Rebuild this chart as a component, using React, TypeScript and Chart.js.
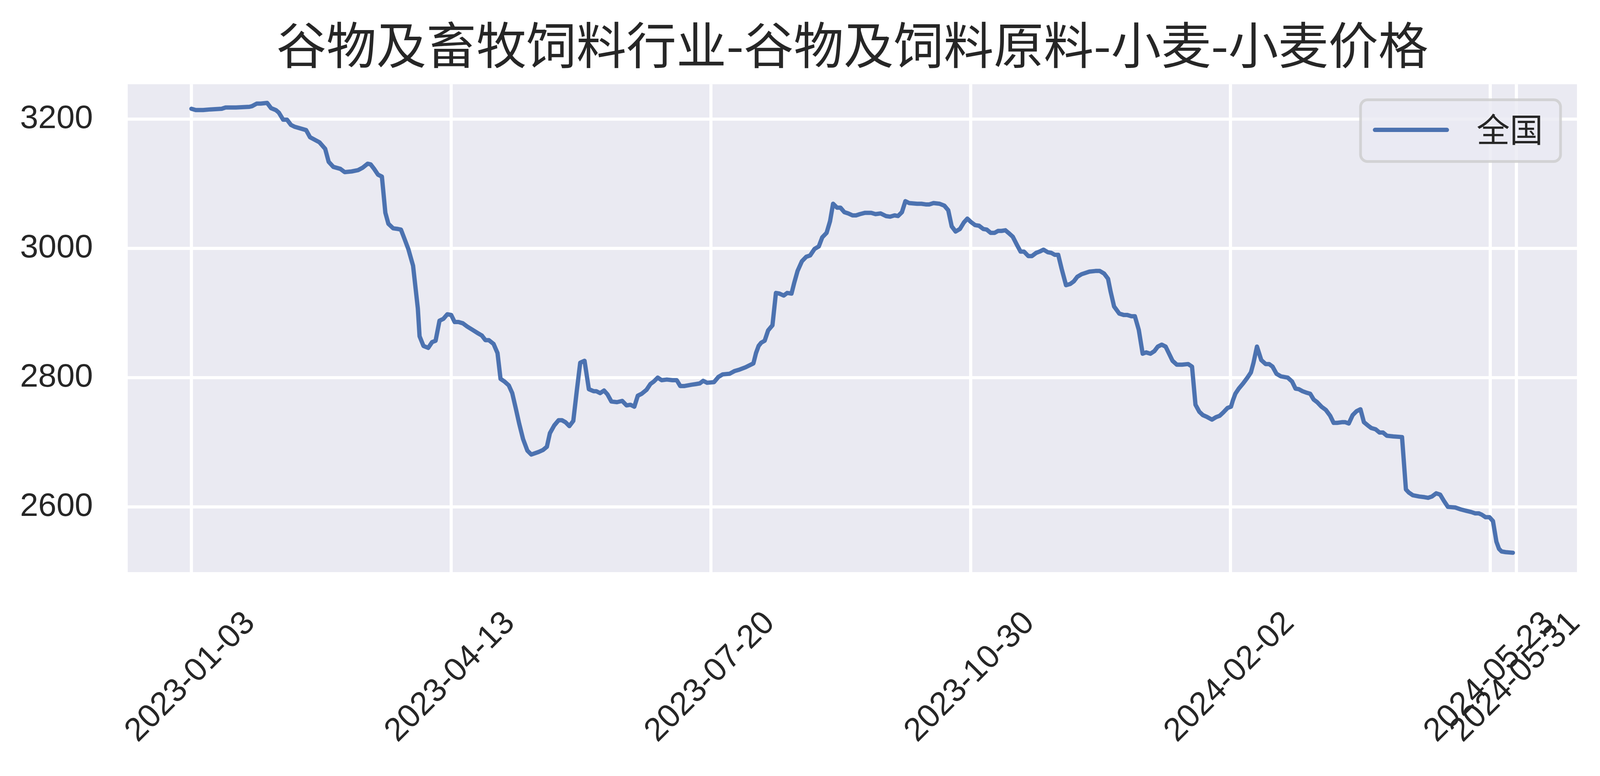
import React, { useEffect, useRef } from "react";
import { Chart, registerables } from "chart.js";

Chart.register(...registerables);

const chartTitle = "谷物及畜牧饲料行业-谷物及饲料原料-小麦-小麦价格";
const seriesName = "全国";

// x positions are trading-day indices (tick positions below use the same units)
const tickPos = [0, 60, 120, 180, 240, 300, 306];
const tickLabels = ["2023-01-03", "2023-04-13", "2023-07-20", "2023-10-30", "2024-02-02", "2024-05-23", "2024-05-31"];
const yTicks = [2600, 2800, 3000, 3200];

const pointIndex = [
  0, 1, 2.7, 4.4, 7, 7.9, 10.3, 13.4, 14, 15.1, 16, 17.5, 18.4, 19.5, 20.2, 21.2, 22.1, 23, 23.9, 26.5,
  27.4, 29.6, 30.9, 31.7, 32.8, 34.4, 35.4, 37, 38.5, 39.6, 40.7, 41.4, 42.2, 43.1, 44, 44.8, 45.5, 46.6, 47.7, 48.4,
  49.2, 50.1, 51.2, 52.3, 52.7, 53.6, 54.7, 55.6, 56.4, 57.3, 58.2, 59.1, 60, 60.8, 61.7, 62.7, 63.7, 64.9, 66.1, 67.1,
  67.9, 68.7, 69.8, 70.7, 71.4, 72.3, 73.3, 74.1, 74.9, 75.7, 76.6, 77.6, 78.5, 80.2, 81.2, 82.1, 82.8, 83.8, 84.8, 85.6,
  86.4, 87.3, 88.2, 89, 89.8, 90.8, 91.8, 92.9, 93.5, 94.4, 95.3, 96.1, 97, 98.3, 99.5, 100.5, 101.4, 102.3, 103.1, 104,
  105.1, 106, 106.8, 107.7, 108.6, 109.8, 111.1, 112.1, 112.9, 113.9, 115.5, 116.5, 117.4, 118.2, 119.1, 120.7, 121.7, 122.7, 124.3, 125.4,
  126.4, 128, 129.8, 130.4, 131, 131.6, 132.4, 133.2, 134.2, 135, 135.8, 136.8, 137.6, 138.6, 139.2, 140, 141, 142, 142.9, 143.9,
  144.9, 145.7, 146.7, 147.5, 148.2, 149.1, 149.9, 150.8, 151.7, 152.7, 153.5, 154.4, 155.6, 157, 158, 159.2, 160.4, 161.4, 162.4, 163.2,
  164.1, 164.9, 165.8, 167.6, 168.6, 169.6, 170.4, 171.4, 172.8, 173.9, 174.8, 175.6, 176.5, 177.5, 178.4, 179.2, 180, 181, 181.9, 182.9,
  183.7, 184.6, 185.5, 186.3, 187.1, 188, 188.7, 189.7, 190.7, 191.5, 192.3, 193.3, 194.1, 195.1, 195.9, 196.8, 197.8, 198.6, 199.4, 200.2,
  201, 202, 203, 203.8, 204.6, 205.6, 207.4, 208.8, 209.8, 210.8, 211.7, 212.3, 213.1, 214.3, 215.3, 216.1, 217.1, 217.9, 218.8, 219.7,
  220.5, 221.5, 222.4, 223.2, 224.1, 225, 225.8, 226.6, 227.6, 228.8, 230.2, 231.1, 231.9, 232.8, 233.6, 234.6, 235.7, 236.7, 237.5, 238.3,
  239.3, 240.1, 240.5, 241.1, 241.9, 242.9, 243.9, 244.7, 245.3, 246.1, 247.1, 248.1, 248.9, 249.7, 250.6, 251.6, 253.2, 254.2, 255, 255.8,
  256.6, 257.4, 258.4, 259.2, 260, 261, 262, 263, 263.8, 264.6, 265.7, 266.5, 267.3, 268.2, 269.1, 270, 270.8, 271.7, 272.5, 273.5,
  274.4, 275.2, 276.1, 277.6, 279.6, 280.5, 281.2, 282.1, 283.6, 284.8, 285.6, 286.5, 287.5, 288.4, 289.3, 290.2, 291.9, 293.2, 294.4, 295.6,
  296.5, 297.3, 298, 298.9, 299.8, 300.6, 301.4, 302, 302.6, 303.5, 305.2,
];

const price = [
  3216, 3214, 3214, 3215, 3216, 3218, 3218, 3219, 3220, 3224, 3224, 3225, 3217, 3214, 3210, 3199, 3199, 3191, 3188, 3183,
  3172, 3164, 3154, 3134, 3126, 3123, 3118, 3119, 3121, 3125, 3131, 3130, 3123, 3114, 3111, 3055, 3038, 3031, 3030, 3029,
  3015, 2999, 2973, 2907, 2864, 2849, 2846, 2855, 2857, 2888, 2891, 2898, 2897, 2886, 2886, 2884, 2879, 2874, 2869, 2865,
  2858, 2858, 2852, 2838, 2798, 2794, 2788, 2776, 2753, 2729, 2705, 2687, 2681, 2685, 2688, 2693, 2714, 2726, 2734, 2734,
  2731, 2725, 2733, 2779, 2823, 2826, 2782, 2779, 2779, 2776, 2780, 2774, 2763, 2762, 2764, 2757, 2758, 2755, 2772, 2775,
  2781, 2790, 2794, 2800, 2796, 2797, 2796, 2796, 2787, 2787, 2789, 2790, 2791, 2795, 2792, 2793, 2801, 2805, 2806, 2810,
  2812, 2816, 2822, 2838, 2849, 2854, 2857, 2873, 2881, 2931, 2930, 2927, 2931, 2930, 2946, 2965, 2980, 2987, 2989, 2999,
  3003, 3017, 3024, 3042, 3069, 3063, 3063, 3056, 3054, 3051, 3051, 3053, 3055, 3055, 3053, 3054, 3050, 3049, 3051, 3050,
  3056, 3073, 3070, 3069, 3069, 3068, 3068, 3070, 3069, 3066, 3059, 3034, 3026, 3030, 3040, 3046, 3041, 3036, 3035, 3030,
  3029, 3024, 3024, 3027, 3027, 3028, 3024, 3018, 3005, 2995, 2995, 2988, 2988, 2993, 2995, 2998, 2994, 2993, 2990, 2990,
  2968, 2943, 2945, 2949, 2956, 2960, 2964, 2965, 2965, 2961, 2953, 2933, 2910, 2899, 2897, 2897, 2895, 2895, 2874, 2837,
  2839, 2837, 2841, 2848, 2851, 2848, 2837, 2826, 2820, 2820, 2821, 2817, 2758, 2747, 2742, 2739, 2735, 2739, 2741, 2746,
  2753, 2755, 2764, 2775, 2783, 2791, 2800, 2808, 2823, 2848, 2827, 2821, 2821, 2817, 2806, 2802, 2800, 2794, 2783, 2782,
  2779, 2777, 2775, 2766, 2762, 2755, 2750, 2741, 2730, 2730, 2731, 2731, 2729, 2742, 2748, 2751, 2731, 2726, 2722, 2720,
  2715, 2715, 2710, 2709, 2708, 2627, 2622, 2618, 2616, 2615, 2614, 2616, 2621, 2619, 2609, 2600, 2599, 2596, 2594, 2592,
  2590, 2590, 2588, 2584, 2584, 2578, 2546, 2535, 2531, 2530, 2529,
];

const W = 4131;
const H = 1987;

const bgPlugin = {
  id: "seabornBg",
  beforeDraw(chart: any) {
    const { ctx, chartArea } = chart;
    ctx.save();
    ctx.fillStyle = "#ffffff";
    ctx.fillRect(0, 0, chart.width, chart.height);
    ctx.fillStyle = "#EAEAF2";
    ctx.fillRect(chartArea.left, chartArea.top, chartArea.right - chartArea.left, chartArea.bottom - chartArea.top);
    ctx.restore();
  },
};

// matplotlib-style legend box in the upper right of the axes
const boxLegend = {
  id: "boxLegend",
  afterDraw(chart: any) {
    const { ctx, chartArea } = chart;
    const ds = chart.data.datasets[0];
    const w = 512;
    const h = 158;
    const x = chartArea.right - 42 - w;
    const y = chartArea.top + 40;
    const r = 18;
    ctx.save();
    ctx.beginPath();
    ctx.roundRect(x, y, w, h, r);
    ctx.fillStyle = "rgba(234,234,242,0.8)";
    ctx.fill();
    ctx.lineWidth = 7;
    ctx.strokeStyle = "rgba(204,204,204,0.8)";
    ctx.stroke();

    ctx.beginPath();
    ctx.moveTo(x + 37, y + 77);
    ctx.lineTo(x + 221, y + 77);
    ctx.lineWidth = ds.borderWidth;
    ctx.lineCap = "round";
    ctx.strokeStyle = ds.borderColor;
    ctx.stroke();

    ctx.fillStyle = "#262626";
    ctx.font = '85px "Noto Sans CJK SC", sans-serif';
    ctx.textAlign = "left";
    ctx.textBaseline = "middle";
    ctx.fillText(ds.label, x + 297, y + 76);
    ctx.restore();
  },
};

const App = () => {
  const canvasRef = useRef<HTMLCanvasElement>(null);

  useEffect(() => {
    const ctx = canvasRef.current?.getContext("2d");
    if (!ctx) return;

    const tickFont = { family: '"Liberation Sans", Arial, sans-serif', size: 84 };

    const chart = new Chart(ctx, {
      type: "line",
      data: {
        datasets: [
          {
            label: seriesName,
            data: pointIndex.map((x, i) => ({ x, y: price[i] })),
            borderColor: "#4C72B0",
            borderWidth: 11,
            pointRadius: 0,
            tension: 0,
            borderCapStyle: "round",
            borderJoinStyle: "round",
            fill: false,
          },
        ],
      },
      options: {
        responsive: false,
        devicePixelRatio: 1,
        animation: false,
        layout: { padding: { left: 0, right: 94, top: 0, bottom: 0 } },
        plugins: {
          legend: { display: false },
          tooltip: { enabled: false },
          title: {
            display: true,
            text: chartTitle,
            fullSize: false,
            color: "#262626",
            font: { family: '"Noto Sans CJK SC", sans-serif', size: 128, weight: "normal", lineHeight: 1.2 },
            padding: { top: 39, bottom: 23 },
          },
        },
        scales: {
          x: {
            type: "linear",
            min: -14.7,
            max: 320,
            afterBuildTicks: (scale: any) => {
              scale.ticks = tickPos.map((v) => ({ value: v }));
            },
            afterFit: (scale: any) => {
              scale.height = 522;
            },
            ticks: {
              autoSkip: false,
              minRotation: 45,
              maxRotation: 45,
              padding: 82,
              labelOffset: 150,
              color: "#262626",
              font: tickFont,
              callback: (_v: any, i: number) => tickLabels[i],
            },
            grid: { color: "#ffffff", lineWidth: 8, drawTicks: false },
            border: { display: false },
          },
          y: {
            type: "linear",
            min: 2499,
            max: 3254,
            afterBuildTicks: (scale: any) => {
              scale.ticks = yTicks.map((v) => ({ value: v }));
            },
            afterFit: (scale: any) => {
              scale.width = 327;
            },
            ticks: {
              padding: 89,
              color: "#262626",
              font: tickFont,
              callback: (v: any) => String(v),
            },
            grid: { color: "#ffffff", lineWidth: 8, drawTicks: false },
            border: { display: false },
          },
        },
      },
      plugins: [bgPlugin, boxLegend],
    } as any);

    return () => {
      chart.destroy();
    };
  }, []);

  return (
    <div style={{ position: "fixed", left: 0, top: 0, width: W, height: H, background: "#ffffff" }}>
      <canvas ref={canvasRef} width={W} height={H} style={{ display: "block", width: W, height: H }} />
    </div>
  );
};

export default App;
